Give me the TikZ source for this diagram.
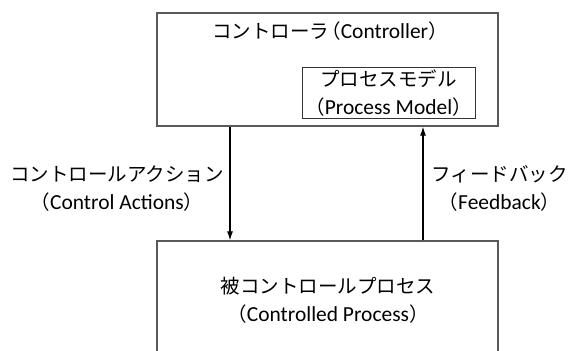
\documentclass[tikz,border=0pt]{standalone}
\usepackage{fontspec}
\setmainfont{Carlito}[Scale=1.1]
\newfontfamily\jp{Noto Sans CJK JP}
\newcommand\lpar{\kern-0.4em（}
\newcommand\rpar{）\kern-0.4em}
\usetikzlibrary{arrows.meta}
\begin{document}
\begin{tikzpicture}[x=1pt,y=-1pt,
  box/.style={draw=black!65,line width=1.3pt,inner sep=0pt},
  inbox/.style={draw=black!80,line width=0.9pt,inner sep=0pt},
  txt/.style={font=\fontsize{19.5}{28}\selectfont,align=center,inner sep=0pt},
  arr/.style={line width=1.1pt,-{Latex[length=9pt,width=6pt]}}]
\useasboundingbox (0,0) rectangle (569,350);
\clip (0,0) rectangle (569,350);
\node[box,minimum width=341pt,minimum height=113pt] (ctrl) at (327.5,69.5) {};
\node[txt] (ctitle) at (326,31) {\jp コントローラ\lpar\rmfamily Controller\jp\rpar};
\node[inbox,minimum width=173pt,minimum height=51pt] (pm) at (388.5,92.5) {};
\node[txt] (pmt) at (388.5,93) {\jp プロセスモデル\\\jp\lpar\rmfamily Process Model\jp\rpar};
\node[box,minimum width=341pt,minimum height=118pt] (proc) at (327.5,300) {};
\node[txt] (proct) at (328,300) {\jp 被コントロールプロセス\\\jp\lpar\rmfamily Controlled Process\jp\rpar};
\coordinate (la) at (230,0);
\coordinate (ra) at (423,0);
\draw[arr] (ctrl.south -| la) -- (proc.north -| la);
\draw[arr] (proc.north -| ra) -- (ctrl.south -| ra);
\node[txt] (cal) at (117,188.5) {\jp コントロールアクション\\\jp\lpar\rmfamily Control Actions\jp\rpar};
\node[txt] (fbl) at (499.5,188.5) {\jp フィードバック\\\jp\lpar\rmfamily Feedback\jp\rpar};
\end{tikzpicture}
\end{document}
